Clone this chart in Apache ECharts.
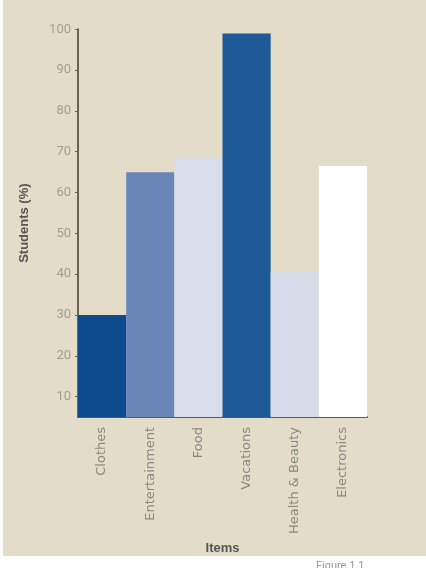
<!DOCTYPE html>
<html><head><meta charset="utf-8">
<script src="https://cdn.jsdelivr.net/npm/echarts@6/dist/echarts.min.js"></script>
<style>html,body{margin:0;padding:0;background:#fff;}#c{width:426px;height:568px;}</style>
</head><body><div id="c"></div>
<script>
var categories = ['Clothes', 'Entertainment', 'Food', 'Vacations', 'Health & Beauty', 'Electronics'];
var values = [30, 65, 68.4, 99, 40.5, 66.5];
var barColors = ['#0d4b8e', '#6a86b9', '#d9dcea', '#1e5a97', '#d5dbe9', '#ffffff'];
var tickValues = [10, 20, 30, 40, 50, 60, 70, 80, 90, 100];

var chart = echarts.init(document.getElementById('c'));
chart.setOption({
  animation: false,
  graphic: [
    {type: 'rect', z: -10, shape: {x: 3, y: 0, width: 423, height: 556}, style: {fill: '#e2dcc8'}},
    {type: 'text', left: 316, top: 561, style: {text: 'Figure 1.1', fill: '#999', font: '11px Roboto'}}
  ],
  grid: {left: 78, right: 59, top: 29.3, bottom: 151, containLabel: false},
  xAxis: {
    type: 'category', data: categories,
    name: 'Items', nameLocation: 'middle', nameGap: 124,
    nameTextStyle: {fontFamily: 'Liberation Sans', fontWeight: 'bold', fontSize: 13, color: '#555'},
    axisLine: {lineStyle: {color: '#5e5a4c', width: 2}},
    axisTick: {show: false},
    axisLabel: {rotate: 90, margin: 10, color: '#8c887d', fontSize: 13, fontFamily: 'DejaVu Sans', interval: 0}
  },
  yAxis: {
    type: 'value', min: 5, max: 100,
    name: 'Students (%)', nameLocation: 'middle', nameGap: 47, nameRotate: 90,
    nameTextStyle: {fontFamily: 'Liberation Sans', fontWeight: 'bold', fontSize: 13, color: '#555'},
    splitLine: {show: false},
    axisLine: {show: true, lineStyle: {color: '#6a6552', width: 2}},
    axisTick: {show: true, length: 3, customValues: tickValues, lineStyle: {color: '#6a6552'}},
    axisLabel: {customValues: tickValues, color: '#a39e91', fontSize: 13, fontFamily: 'Roboto', margin: 7}
  },
  series: [{
    type: 'bar', data: values.map(function (v, i) { return {value: v, itemStyle: {color: barColors[i]}}; }),
    barCategoryGap: 0, barGap: 0
  }]
});
</script></body></html>
